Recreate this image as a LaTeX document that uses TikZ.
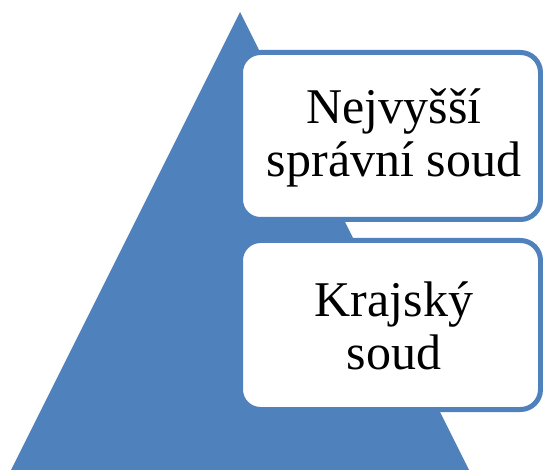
\documentclass[tikz,border=0pt]{standalone}
\usepackage{fontspec}
\setmainfont{Liberation Serif}
\definecolor{pyrblue}{HTML}{4F81BD}
\begin{document}
\begin{tikzpicture}[x=1pt,y=-1pt,
  levelbox/.style={draw=pyrblue,line width=5pt,fill=white,rounded corners=20pt},
  leveltext/.style={align=center,font=\fontsize{50}{53}\selectfont,inner sep=0pt}]
\useasboundingbox (0,0) rectangle (543,470);
\fill[pyrblue] (240,12) -- (11,470) -- (469,470) -- cycle;
\draw[levelbox] (240.5,52.5) rectangle (540.5,219.5);
\draw[levelbox] (240.5,240.5) rectangle (540.5,409.5);
\node[leveltext] (nss) at (394,138) {Nejvyšší\\správní soud};
\node[leveltext] (ks) at (394,326) {Krajský\\soud};
\end{tikzpicture}
\end{document}
